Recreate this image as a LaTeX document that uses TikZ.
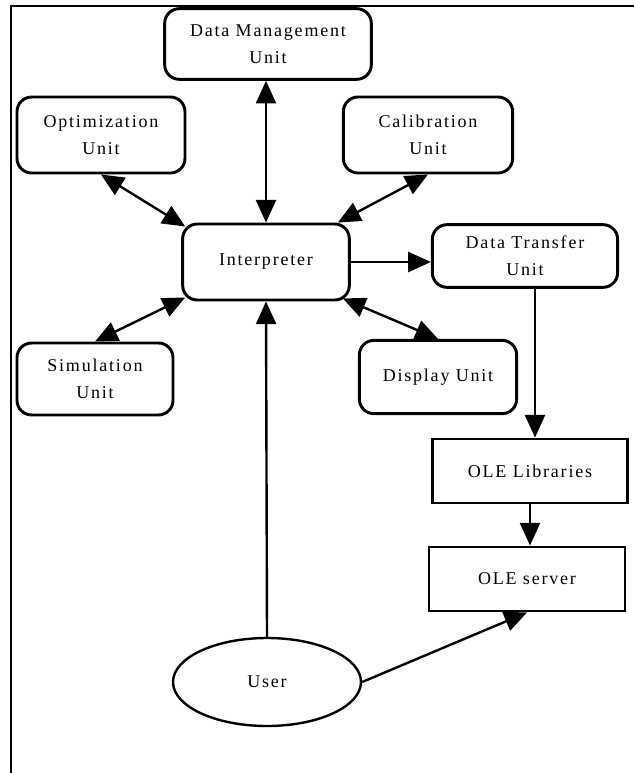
\documentclass[tikz,border=0pt]{standalone}
\usepackage{fontspec}
\setmainfont[LetterSpace=10]{Liberation Serif}
\usetikzlibrary{shapes.geometric,arrows.meta}
\begin{document}
\begin{tikzpicture}[x=0.75pt,y=-0.75pt,
  unit/.style={draw,line width=2.2pt,rounded corners=11pt,align=center,inner sep=0pt,
    font=\fontsize{13.5}{20}\selectfont},
  lib/.style={draw,line width=2.2pt,align=center,inner sep=0pt,font=\fontsize{13.5}{20}\selectfont},
  link/.style={line width=1.8pt,-{Triangle[length=17pt,width=15pt]}},
  both/.style={line width=1.8pt,{Triangle[length=17pt,width=15pt]}-{Triangle[length=17pt,width=15pt]}}]
\useasboundingbox(0,0) rectangle (634,773);
\draw[line width=2.2pt](634,6)--(11,6)--(11,773);
\node[unit,minimum width=155pt,minimum height=53pt](dm) at (268,44){Data Management\\Unit};
\node[unit,minimum width=126pt,minimum height=57pt](opt) at (101,135){Optimization\\Unit};
\node[unit,minimum width=127pt,minimum height=57pt](cal) at (428,135){Calibration\\Unit};
\node[unit,minimum width=125pt,minimum height=57pt](interp) at (266,262){Interpreter};
\node[unit,minimum width=139pt,minimum height=47pt](dt) at (525,256){Data Transfer\\Unit};
\node[unit,minimum width=117pt,minimum height=54pt](sim) at (95,379){Simulation\\Unit};
\node[unit,minimum width=118pt,minimum height=55pt](disp) at (438,377){Display Unit};
\node[lib,minimum width=146pt,minimum height=48pt](ol) at (530,471){OLE Libraries};
\node[lib,minimum width=147pt,minimum height=48pt](os) at (527,579){OLE server};
\node[ellipse,draw,line width=1.8pt,minimum width=141pt,minimum height=66pt,inner sep=0pt,
  font=\fontsize{13.5}{20}\selectfont](user) at (267,682){User};
\draw[both](interp.north |- dm.south)--(interp.north);
\draw[both](opt.south)--([shift={(4,4)}]interp.north west);
\draw[both](cal.south)--([shift={(-13,0)}]interp.north east);
\draw[both](sim.north)--([shift={(4,-4)}]interp.south west);
\draw[both]([shift={(-8,-3)}]interp.south east)--(disp.north);
\draw[link](interp.east)--(interp.east -| dt.west);
\draw[link]([shift={(5,0)}]ol.north |- dt.south)--([shift={(5,0)}]ol.north);
\draw[link](ol.south)--(ol.south |- os.north);
\draw[link](user.north)--(interp.south);
\draw[link](user.east)--(os.south);
\end{tikzpicture}
\end{document}
